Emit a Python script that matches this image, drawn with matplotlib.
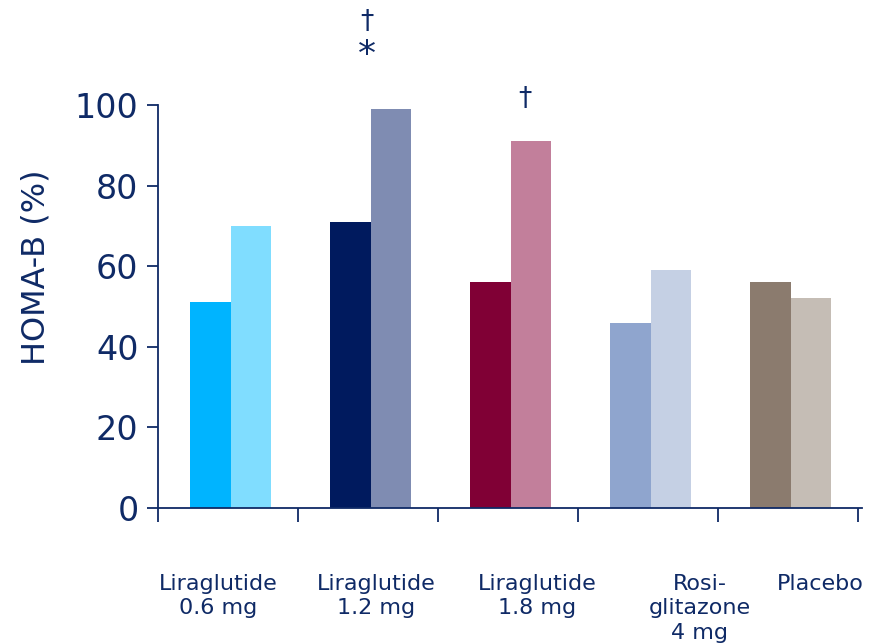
import numpy as np
import matplotlib.pyplot as plt

groups = ["Liraglutide\n0.6 mg", "Liraglutide\n1.2 mg", "Liraglutide\n1.8 mg",
          "Rosi-\nglitazone\n4 mg", "Placebo"]
baseline = [51, 71, 56, 46, 56]
endpoint = [70, 99, 91, 59, 52]
yticks = [0, 20, 40, 60, 80, 100]

col_base = ["#00B4FF", "#001A5E", "#800035", "#8FA5CE", "#8B7B6E"]
col_end = ["#80DDFF", "#7F8CB2", "#C27F9B", "#C5D0E4", "#C5BDB5"]
navy = "#0F2A66"

fig = plt.figure(figsize=(8.69, 6.44), dpi=100)
ax = fig.add_axes([158 / 869, 1 - 508 / 644, (862 - 158) / 869, (508 - 105) / 644])

x = np.arange(len(groups))
w = 0.29
ax.bar(x + 0.02 - w / 2, baseline, w, color=col_base, clip_on=False)
ax.bar(x + 0.02 + w / 2, endpoint, w, color=col_end, clip_on=False)

ax.set_xlim(-0.5, len(groups) - 0.5 + 0.03)
ax.set_ylim(0, 100)
ax.set_yticks(yticks)
ax.set_yticklabels([str(t) for t in yticks], fontsize=24, color=navy)
ax.set_xticks(np.arange(len(groups) + 1) - 0.5)
ax.set_xticklabels([])
ax.tick_params(axis="y", length=8, width=1.3, color=navy, pad=6)
ax.tick_params(axis="x", length=10, width=1.3, color=navy, direction="out")
for s in ["top", "right"]:
    ax.spines[s].set_visible(False)
for s in ["left", "bottom"]:
    ax.spines[s].set_color(navy)
    ax.spines[s].set_linewidth(1.3)

# y axis title, placed a little above the axis middle as in the original
fig.text(36 / 869, 1 - 267 / 644, "HOMA-B (%)", rotation=90, ha="center",
         va="center", fontsize=23, color=navy)

# category labels
label_x = [-0.07, 1.06, 2.21, 3.37, 4.23]
for lx, g in zip(label_x, groups):
    ax.text(lx, -16.3, g, ha="center", va="top", fontsize=16, color=navy,
            linespacing=1.28)

# significance marks
ax.text(0.99, 120.5, "†", ha="center", va="center", fontsize=19, color=navy)
ax.text(0.99, 112.5, "*", ha="center", va="center", fontsize=26, color=navy)
ax.text(2.12, 101.5, "†", ha="center", va="center", fontsize=19, color=navy)

fig.savefig("out.png", dpi=100)
